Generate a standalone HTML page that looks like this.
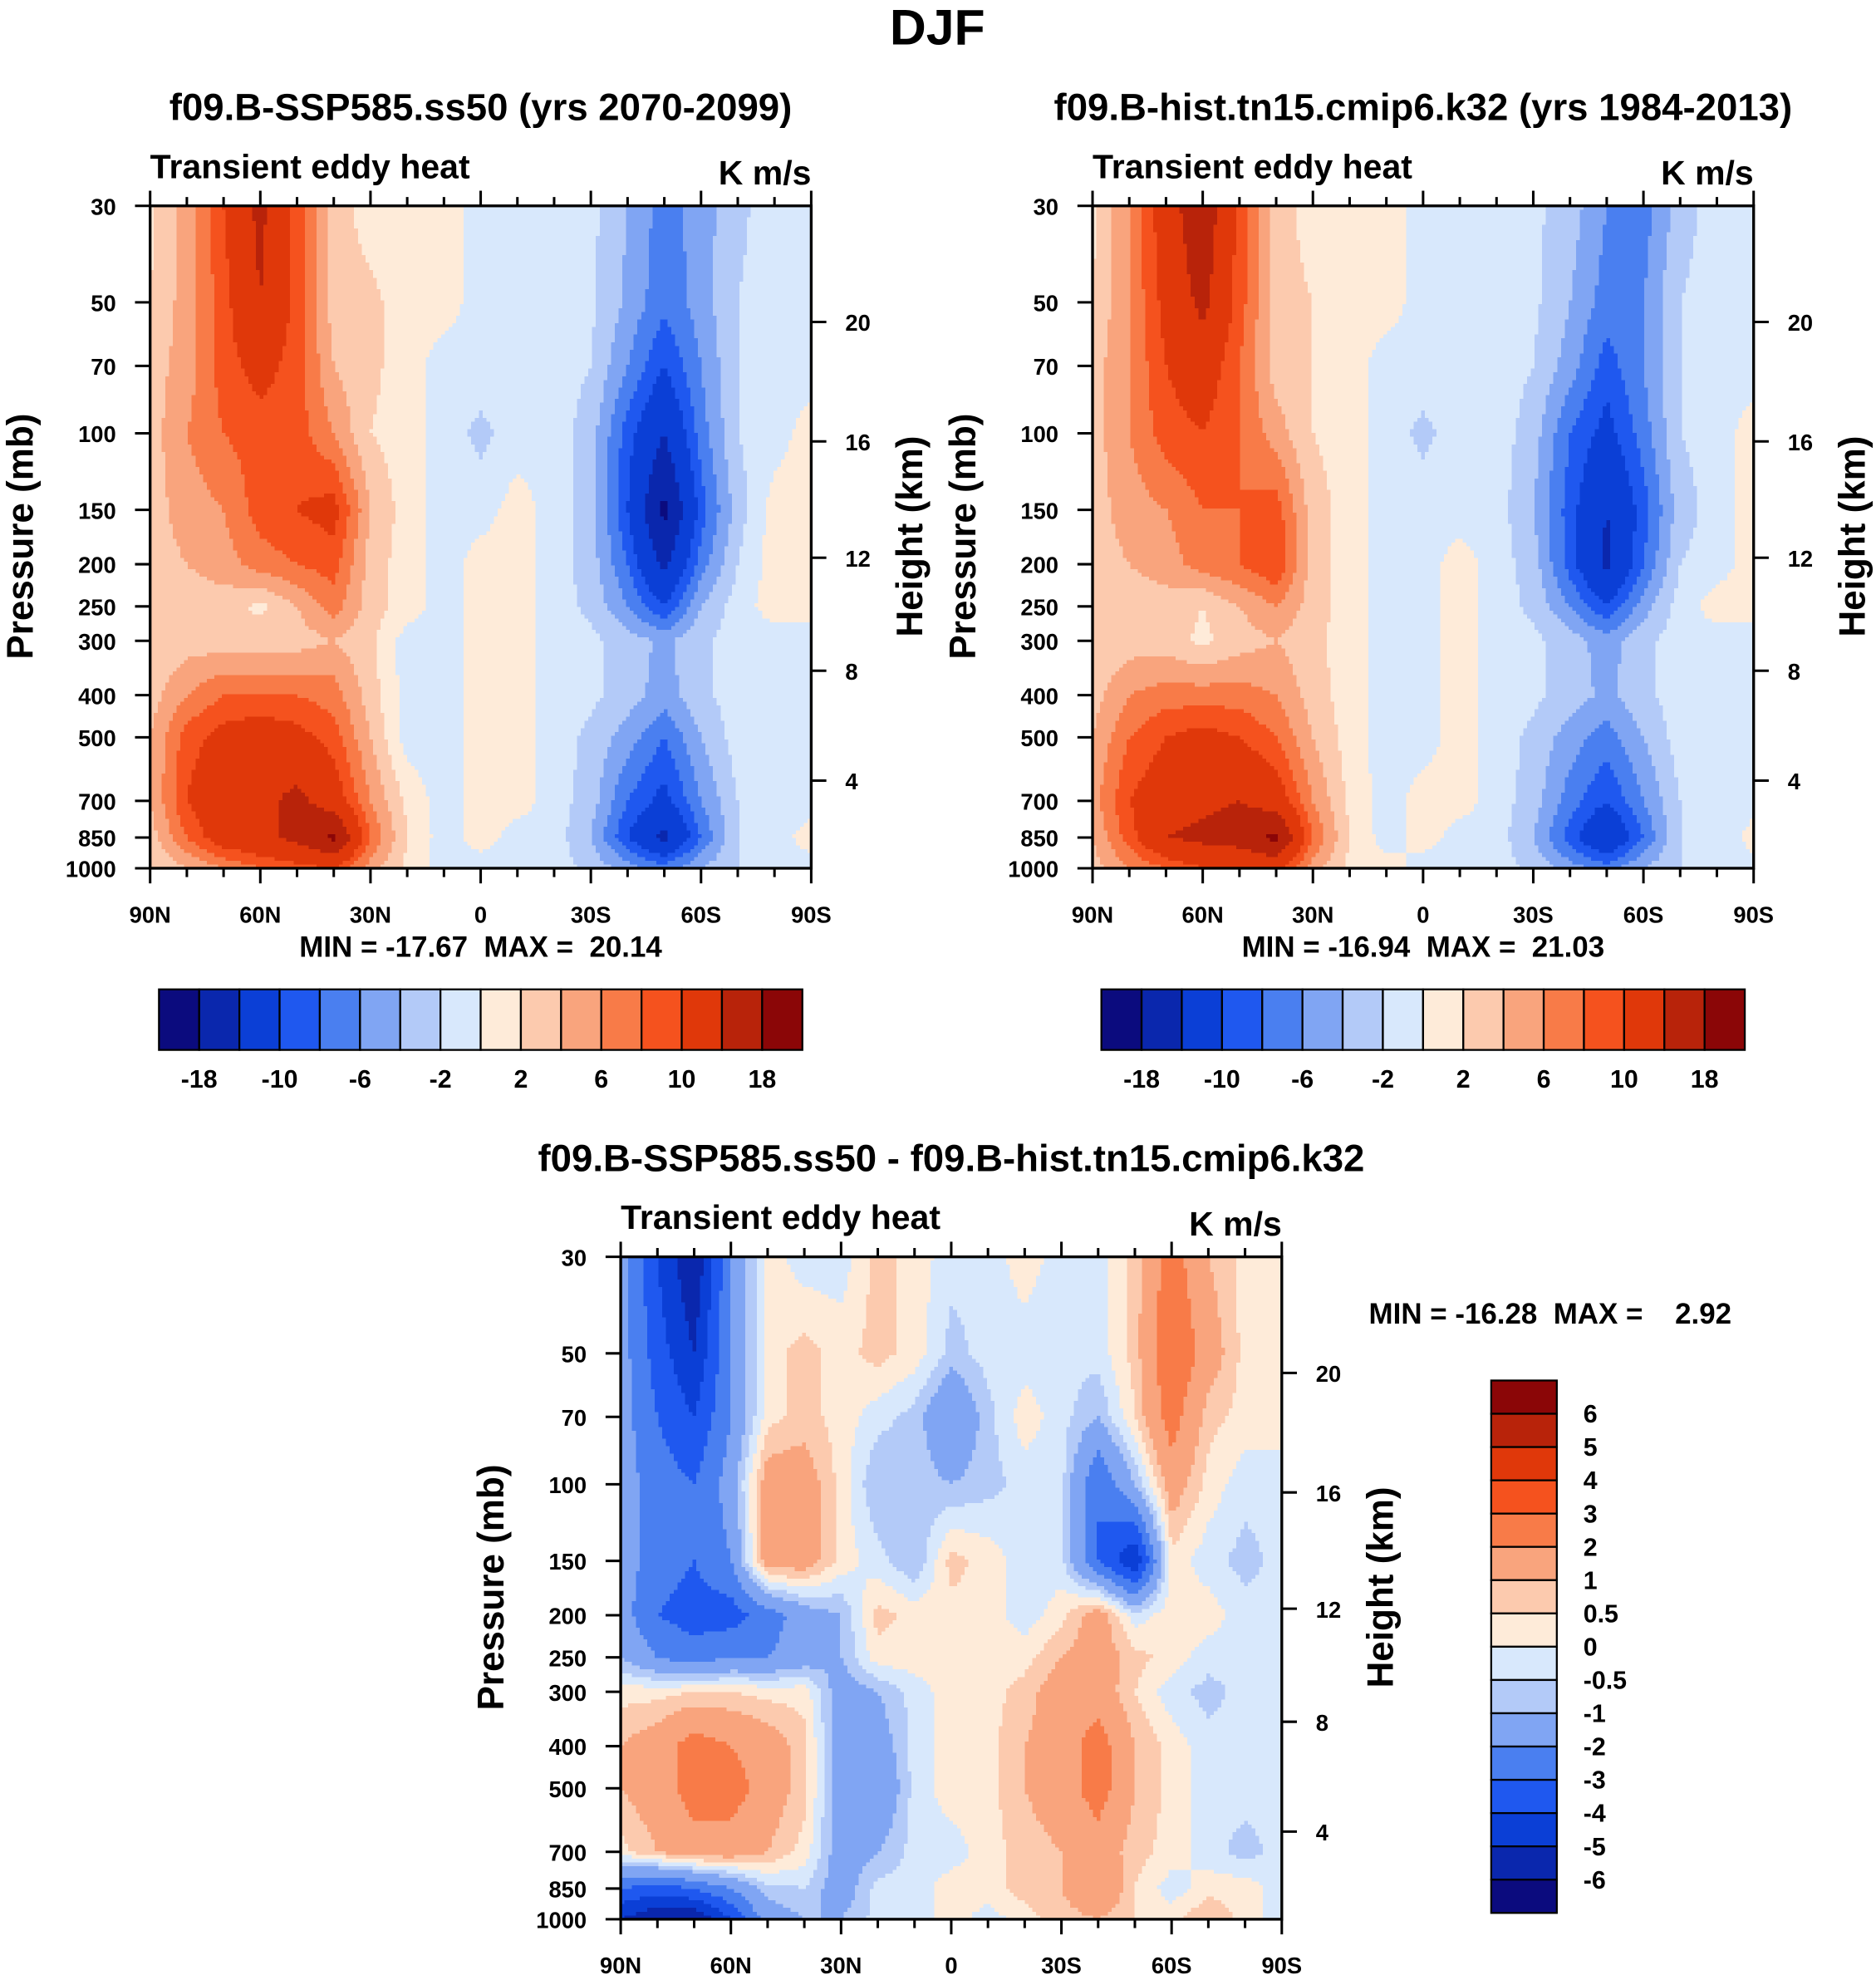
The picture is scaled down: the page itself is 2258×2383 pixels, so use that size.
<!DOCTYPE html>
<html><head><meta charset="utf-8">
<style>
html,body{margin:0;padding:0;background:#fff;}
svg{display:block;font-family:"Liberation Sans",Arial,sans-serif;font-weight:bold;}
.pre{white-space:pre;}
</style></head>
<body>
<svg id="fig" width="2258" height="2383" viewBox="0 0 1487 1569" xmlns="http://www.w3.org/2000/svg">
<rect width="1487" height="1569" fill="#fff"/>
<text x="743" y="35" font-size="40" text-anchor="middle">DJF</text>
<text x="381" y="95" font-size="30" text-anchor="middle">f09.B-SSP585.ss50 (yrs 2070-2099)</text>
<text x="1128" y="95" font-size="30" text-anchor="middle">f09.B-hist.tn15.cmip6.k32 (yrs 1984-2013)</text>
<text x="754" y="928" font-size="30" text-anchor="middle">f09.B-SSP585.ss50 - f09.B-hist.tn15.cmip6.k32</text>
<g id="panels"></g>
</svg>
<script>
// ---------- data ----------
const lats = [90,80,70,60,50,40,30,20,10,0,-10,-20,-30,-40,-50,-60,-70,-80,-90];
const levels = [30,50,70,100,150,200,250,300,400,500,700,850,1000];
const pTicks = [30,50,70,100,150,200,250,300,400,500,700,850,1000];
const hTicks = [20,16,12,8,4];
const latTicks = ["90N","60N","30N","0","30S","60S","90S"];
const colors = ["#0b0b7e","#0a27ad","#0b3fd6","#1f58ef","#4a7ff0","#80a5f3","#b3caf8","#d8e8fc","#feebd9","#fccaae","#f9a47d","#f87b48","#f5521e","#e0380a","#b8230a","#8b0607"];
const lev12 = [-18,-14,-10,-8,-6,-4,-2,0,2,4,6,8,10,14,18];
const lev3 = [-6,-5,-4,-3,-2,-1,-0.5,0,0.5,1,2,3,4,5,6];
const cb12Labels = ["-18","-10","-6","-2","2","6","10","18"];
const cb3Labels = ["6","5","4","3","2","1","0.5","0","-0.5","-1","-2","-3","-4","-5","-6"];

const fut = [
 [1.5,5,10,15,9,3,1,1,1,-1,-1,-1,-1.5,-4,-7,-5,-2.5,-1,-1],
 [2,5,9,14,9,3,2.5,1,1,-1,-1,-1,-1.5,-4.5,-7.5,-5,-2,-1,-1],
 [3,5,9,11,9,4,2.5,1,-1,-1,-1,-1,-2,-6,-10,-6,-2,-1,-1],
 [3,6,8,9,9,6,2,1,-1,-2.5,-1,-1,-3,-9,-14,-7,-2,-1,1],
 [3,5,6,9,10,11,4,1,-1,-1,1,-1,-3,-10,-19,-9,-3,1,1],
 [3,4,5,7,8,9,3,1,-1,1,1,-1,-3,-8,-15,-7,-2,1,1],
 [3,3,3,1.5,4,7,3,1,-1,1,1,-1,-2.5,-6,-10,-4,-1,1,1],
 [2.5,3,3,3,3,4,2.5,-1,-1,1,1,-1,-1.5,-3,-4.5,-2.5,-1,-1,-1],
 [3,6,8,8,8,7,3,-1,-1,1,1,-1,-1.5,-3,-5,-2.5,-1,-1,-1],
 [4,9,11,12,11,9,4,-1,-1,1,1,-1,-2.5,-5,-8,-4,-1,-1,-1],
 [4,10,13,13,15,12,6,1.5,-1,1,1,-1,-3,-8,-11,-6,-2,-1,-1],
 [3,8,12,13,15,19,8,2,-1,1,-1,-1,-4,-10,-15,-8,-2,-1,1],
 [2,4,6,8,9,10,5,1.5,-1,-1,-1,-1,-2.5,-5,-7,-4,-2,-1,-1]
];
const hist = [
 [1.5,6,12,17,9,3,1,1,1,-1,-1,-1,-1.5,-3,-6,-7,-3,-1,-1],
 [2,6,11,15,9,3,2,1,1,-1,-1,-1,-1.5,-4,-7,-6,-2,-1,-1],
 [3,6,10,12,8,3,2,1,-1,-1,-1,-1,-2,-5,-9,-6,-2,-1,-1],
 [3,6,9,10,8,5,2,1,-1,-2.5,-1,-1,-3,-8,-11,-7,-2,-1,1],
 [3,5,6,8,8,9,3,1,-1,-1,-1,-1,-4,-9,-14,-9,-3,-1,1],
 [3,4,5,7,8,10,3,1,-1,-1,1,-1,-3,-9,-15,-8,-2,-1,1],
 [3,3,3,2,4,6,3,1,-1,-1,1,-1,-2.5,-6,-10,-5,-1,1,1],
 [2.5,3,3,1.5,3,4,2.5,1,-1,-1,1,-1,-1.5,-3,-5,-2.5,-1,-1,-1],
 [3,6,7,7,7,6,3,1,-1,-1,1,-1,-1.5,-3,-4.5,-2.5,-1,-1,-1],
 [4,8,10,11,10,8,4,1,-1,-1,1,-1,-2.5,-5,-7,-4,-1,-1,-1],
 [5,10,12,13,14,12,6,1.5,-1,1,1,-1,-3,-7,-10,-6,-2,-1,-1],
 [4,9,14,15,16,19,8,2,-1,1,-1,-1,-4,-9,-14,-8,-2,-2,1],
 [3,6,8,10,10,11,5,1.5,1,-1,-1,-1,-2.5,-5,-7,-4,-2,-1,-1]
];
const diff = [
 [-1.5,-4,-6,-2,0.3,-0.3,-0.3,0.7,0.3,-0.3,-0.3,0.3,-0.3,-0.3,0.7,2.5,1,0.3,0.3],
 [-1.5,-3.5,-5,-2,0.3,0.7,0.3,0.7,0.3,-0.7,-0.3,-0.3,-0.3,-0.3,0.7,3,1.5,0.3,0.3],
 [-1.5,-3,-4,-2,0.3,0.7,0.3,-0.3,-0.7,-2,-0.7,0.3,-0.3,-1,0.5,2.5,0.7,0.3,0.3],
 [-1.5,-2.5,-3,-1.5,1.5,1.5,0.3,-1,-0.7,-1,-0.7,-0.3,-0.3,-3,-1,1.5,0.3,-0.3,-0.3],
 [-1.5,-2.5,-3,-2,1.5,1.5,0.3,-0.3,-1,0.7,0.3,-0.3,-0.3,-3,-5,0.3,-0.3,-0.7,-0.3],
 [-1.5,-3,-3.5,-3.5,-2.5,-1.5,-1,0.7,0.3,0.3,0.3,-0.3,0.3,1.5,-0.3,0.3,0.3,-0.3,-0.3],
 [-1,-2,-2.5,-2,-2,-1.5,-1,0.3,0.3,0.3,0.3,0.3,1,1.5,0.7,0.3,-0.3,-0.3,-0.3],
 [0.3,0.3,0.5,0.5,0.3,0.3,-1.5,-1,-0.3,0.3,0.3,0.7,1.5,1.5,0.5,-0.3,-0.7,-0.3,-0.3],
 [1,1.5,2.5,2,1.5,0.7,-1.5,-1.5,-0.3,0.3,0.3,1,1.5,2.5,1,0.3,-0.3,-0.3,-0.3],
 [1,1.5,2.5,2.5,1.5,0.7,-1.5,-2,-0.3,0.3,0.3,1,1.5,2.5,1,0.3,-0.3,-0.3,-0.3],
 [0.3,1,1.5,1.5,1,0.3,-1.5,-1,-0.3,-0.3,0.3,0.7,1,1.5,0.7,0.3,-0.3,-0.7,-0.3],
 [-3,-3.5,-3,-2,-0.7,-0.5,-1.5,-0.3,-0.3,0.3,0.3,0.7,1,2,0.5,-0.3,0.3,0.3,-0.3],
 [-5,-6,-6,-4,-1.5,-1,-1,-0.3,-0.3,0.3,-0.3,0.3,0.7,1,0.5,0.3,1,0.3,-0.3]
];

// ---------- helpers ----------
const NS = "http://www.w3.org/2000/svg";
const root = document.getElementById('panels');
function mk(tag, attrs, parent){
  const e = document.createElementNS(NS, tag);
  for (const k in attrs) e.setAttribute(k, attrs[k]);
  (parent||root).appendChild(e);
  return e;
}
function colorFor(v, lev){
  let i = 0; while (i < lev.length && v >= lev[i]) i++;
  return colors[i];
}
function sample(data, latVal, p){
  let fi = (90 - latVal) / 10; fi = Math.max(0, Math.min(18, fi));
  const lp = Math.log(p);
  let j = 0; while (j < levels.length-2 && Math.log(levels[j+1]) < lp) j++;
  let fj = (lp - Math.log(levels[j])) / (Math.log(levels[j+1]) - Math.log(levels[j]));
  fj = Math.max(0, Math.min(1, fj));
  const i0 = Math.min(17, Math.floor(fi)), ti = fi - i0;
  const a = data[j][i0], b = data[j][i0+1], c = data[j+1][i0], d = data[j+1][i0+1];
  return (a*(1-ti)+b*ti)*(1-fj) + (c*(1-ti)+d*ti)*fj;
}
// standard-atmosphere-like height axis: offset from top grows non-linearly
function heightOffset(h){
  // quadratic fit through (20,92),(12,280),(4,454)
  return 92 + (20-h)*24.0 - (20-h)*(20-h)*0.08;
}

function panel(name, X0, Y0, data, lev){
  const W = 524, H = 525;
  const xS = lat => X0 + (90 - lat) / 180 * W;
  const yS = p => Y0 + Math.log(p/30) / Math.log(1000/30) * H;
  const hS = h => Y0 + heightOffset(h);
  const g = mk('g', {});
  
  
  const field = mk('g', {'shape-rendering':'crispEdges'}, g);
  
  
  const nx = 175, ny = 175, dx = W/nx, dy = H/ny;
  for (let r = 0; r < ny; r++){
    const yc = Y0 + (r+0.5)*dy;
    const p = 30 * Math.exp((yc - Y0)/H * Math.log(1000/30));
    let runStart = 0, runCol = null;
    for (let c = 0; c <= nx; c++){
      let col = null;
      if (c < nx){
        const xc = X0 + (c+0.5)*dx;
        const lat = 90 - (xc - X0)/W*180;
        col = colorFor(sample(data, lat, p), lev);
      }
      if (col !== runCol){
        if (runCol !== null){
          const cell = mk('rect', {x:(X0+runStart*dx).toFixed(2), y:(Y0+r*dy).toFixed(2), width:((c-runStart)*dx+0.6).toFixed(2), height:(dy+0.6).toFixed(2), fill:runCol}, field);
          
          
        }
        runStart = c; runCol = col;
      }
    }
  }
  const fr = mk('rect', {x:X0, y:Y0, width:W, height:H, fill:'none', stroke:'#000', 'stroke-width':2.2}, g);
  
  
  for (let lat = 90; lat >= -90; lat -= 10){
    const major = lat % 30 === 0, L = major ? 12 : 7, x = xS(lat);
    mk('line', {x1:x, y1:Y0, x2:x, y2:Y0-L, stroke:'#000', 'stroke-width':2}, g);
    mk('line', {x1:x, y1:Y0+H, x2:x, y2:Y0+H+L, stroke:'#000', 'stroke-width':2}, g);
  }
  latTicks.forEach((t, i) => {
    const tx = mk('text', {x:xS(90 - i*30), y:Y0+H+43, 'font-size':18, 'text-anchor':'middle'}, g);
    
    
    tx.textContent = t;
  });
  pTicks.forEach(p => {
    const y = yS(p);
    mk('line', {x1:X0, y1:y, x2:X0-12, y2:y, stroke:'#000', 'stroke-width':2}, g);
    const tx = mk('text', {x:X0-27, y:y+7, 'font-size':18, 'text-anchor':'end'}, g);
    
    
    tx.textContent = p;
  });
  hTicks.forEach(h => {
    const y = hS(h);
    mk('line', {x1:X0+W, y1:y, x2:X0+W+12, y2:y, stroke:'#000', 'stroke-width':2}, g);
    const tx = mk('text', {x:X0+W+27, y:y+7, 'font-size':18}, g);
    
    
    tx.textContent = h;
  });
  const t1 = mk('text', {x:X0, y:Y0-22, 'font-size':27}, g);
  
  
  t1.textContent = 'Transient eddy heat';
  const t2 = mk('text', {x:X0+W, y:Y0-17, 'font-size':27, 'text-anchor':'end'}, g);
  
  
  t2.textContent = 'K m/s';
  const yl = mk('text', {x:0, y:0, 'font-size':29, 'text-anchor':'middle', transform:`translate(${X0-93},${Y0+262}) rotate(-90)`}, g);
  
  
  yl.textContent = 'Pressure (mb)';
  const hl = mk('text', {x:0, y:0, 'font-size':29, 'text-anchor':'middle', transform:`translate(${X0+W+88},${Y0+262}) rotate(-90)`}, g);
  
  
  hl.textContent = 'Height (km)';
}

function hbar(name, X, Y, labels){
  const g = mk('g', {});
  
  
  const bw = 510/16;
  colors.forEach((c, i) => {
    const r = mk('rect', {x:X+i*bw, y:Y, width:bw, height:48, fill:c, stroke:'#000', 'stroke-width':1.5}, g);
    
    
  });
  labels.forEach((t, k) => {
    const tx = mk('text', {x:X+(2*k+1)*bw, y:Y+78, 'font-size':20, 'text-anchor':'middle'}, g);
    
    
    tx.textContent = t;
  });
}

panel('panel-future', 119, 163, fut, lev12);
panel('panel-hist', 866, 163, hist, lev12);
panel('panel-diff', 492, 996, diff, lev3);
hbar('colorbar-top-left', 126, 784, cb12Labels);
hbar('colorbar-top-right', 873, 784, cb12Labels);

(function(){
  const g = mk('g', {});
  
  
  const X = 1182, Y = 1094, bh = 422/16;
  for (let i = 0; i < 16; i++){
    const r = mk('rect', {x:X, y:Y+i*bh, width:52, height:bh, fill:colors[15-i], stroke:'#000', 'stroke-width':1.5}, g);
    
    
  }
  cb3Labels.forEach((t, k) => {
    const tx = mk('text', {x:1255, y:Y+(k+1)*bh+7, 'font-size':20}, g);
    
    
    tx.textContent = t;
  });
})();

function txt(name, x, y, s, anchor){
  const t = mk('text', {x:x, y:y, 'font-size':23, 'text-anchor':anchor||'middle', 'class':'pre'});
  
  
  t.textContent = s;
}
txt('minmax-future', 381, 758, 'MIN = -17.67  MAX =  20.14');
txt('minmax-hist', 1128, 758, 'MIN = -16.94  MAX =  21.03');
txt('minmax-diff', 1085, 1049, 'MIN = -16.28  MAX =    2.92', 'start');
</script>
</body></html>
